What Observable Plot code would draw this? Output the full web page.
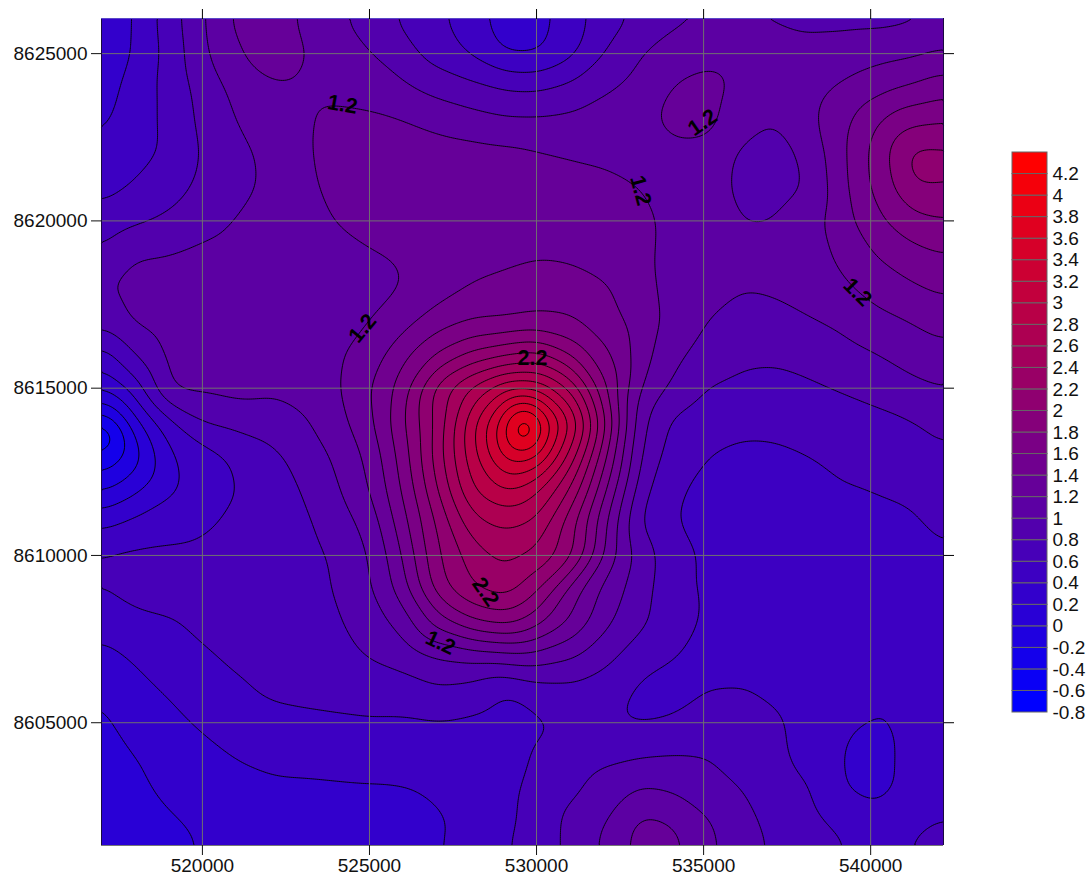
<!DOCTYPE html>
<html>
<head>
<meta charset="utf-8">
<script src="https://cdn.jsdelivr.net/npm/d3@7"></script>
<script src="https://cdn.jsdelivr.net/npm/@observablehq/plot@0.6"></script>
<style>
html,body{margin:0;padding:0;background:#fff;overflow:hidden}
#wrap{position:relative;width:1089px;height:877px}
#wrap svg{position:absolute;font-family:"Liberation Sans",Arial,sans-serif}
</style>
</head>
<body>
<div id="wrap"></div>
<script>
const xGrid = [516980,517988,518996,520004,521012,522020,523028,524036,525044,526052,527060,528068,529076,530084,531092,532100,533108,534116,535124,536132,537140,538148,539156,540164,541172,542180];
const yGrid = [8626000,8625000,8624000,8623000,8622000,8621000,8620000,8619000,8618000,8617000,8616000,8615000,8614000,8613000,8612000,8611000,8610000,8609000,8608000,8607000,8606000,8605000,8604000,8603000,8602000,8601000];
const zRows = [
[.18,.42,.70,.98,1.25,1.32,1.16,1.04,.90,.76,.63,.50,.28,.32,.53,.70,.85,.97,1.00,1.00,.98,.96,.95,.94,.96,1.02],
[.22,.42,.66,.96,1.18,1.32,1.21,1.12,1.01,.87,.70,.57,.37,.37,.55,.83,1.00,1.09,1.14,1.13,1.09,1.05,1.08,1.13,1.16,1.23],
[.30,.49,.66,.88,1.06,1.17,1.17,1.14,1.12,1.03,.93,.85,.78,.77,.85,.98,1.07,1.22,1.28,1.15,1.10,1.13,1.22,1.32,1.41,1.52],
[.36,.51,.65,.85,1.01,1.09,1.17,1.25,1.23,1.20,1.13,1.08,1.03,1.03,1.05,1.09,1.14,1.27,1.28,1.06,.99,1.15,1.34,1.57,1.76,1.79],
[.44,.54,.63,.82,.95,1.04,1.16,1.30,1.38,1.35,1.30,1.28,1.26,1.22,1.18,1.15,1.12,1.15,1.13,.96,.93,1.04,1.36,1.68,2.04,2.04],
[.53,.62,.72,.85,.95,1.03,1.14,1.27,1.35,1.36,1.34,1.32,1.32,1.30,1.28,1.26,1.20,1.14,1.09,.95,.93,1.00,1.35,1.66,1.95,1.97],
[.68,.77,.84,.93,1.01,1.07,1.12,1.21,1.29,1.32,1.33,1.33,1.33,1.33,1.33,1.31,1.24,1.16,1.11,.99,1.00,1.12,1.33,1.55,1.74,1.79],
[.81,1.00,1.01,1.05,1.07,1.09,1.10,1.13,1.18,1.22,1.27,1.31,1.35,1.38,1.36,1.31,1.24,1.15,1.10,1.06,1.06,1.12,1.24,1.41,1.52,1.60],
[.99,1.06,1.06,1.07,1.08,1.09,1.09,1.10,1.14,1.20,1.30,1.42,1.46,1.50,1.49,1.42,1.28,1.12,1.08,1.01,1.03,1.07,1.16,1.28,1.37,1.44],
[.87,1.05,1.08,1.10,1.10,1.10,1.10,1.12,1.20,1.33,1.52,1.60,1.60,1.64,1.62,1.47,1.32,1.13,1.00,.92,.93,.99,1.04,1.14,1.20,1.29],
[.50,.82,1.06,1.12,1.14,1.13,1.13,1.18,1.29,1.57,1.82,2.06,2.18,2.26,1.97,1.63,1.29,1.05,.92,.84,.83,.87,.93,.99,1.07,1.13],
[.20,.50,1.03,1.03,1.07,1.03,1.08,1.18,1.40,1.72,2.32,2.65,2.98,2.95,2.55,1.80,1.18,.95,.79,.75,.74,.77,.82,.89,.95,1.00],
[-.37,.15,.55,.82,.87,.90,.97,1.13,1.36,1.80,2.27,2.95,3.58,3.70,3.00,2.00,1.04,.75,.68,.66,.66,.67,.70,.73,.78,.85],
[-.40,-.10,.38,.52,.63,.74,.89,1.03,1.26,1.72,2.32,2.93,3.52,3.45,2.70,1.80,.97,.70,.60,.55,.56,.60,.65,.70,.75,.78],
[-.05,.14,.37,.47,.60,.70,.81,.98,1.20,1.65,2.22,2.82,3.05,2.82,2.37,1.60,.87,.62,.56,.53,.53,.53,.59,.61,.63,.67],
[.32,.45,.50,.55,.65,.68,.76,.90,1.08,1.55,2.05,2.55,2.65,2.55,2.05,1.40,.76,.60,.52,.50,.50,.50,.50,.55,.58,.65],
[.62,.64,.65,.66,.68,.70,.73,.83,1.00,1.43,2.00,2.29,2.47,2.35,2.07,1.34,.92,.67,.57,.52,.50,.49,.49,.49,.50,.58],
[.60,.66,.68,.70,.70,.71,.73,.81,.98,1.33,1.93,2.20,2.32,2.03,1.47,1.12,.90,.64,.58,.50,.47,.45,.45,.45,.45,.45],
[.47,.56,.58,.64,.66,.68,.70,.78,.90,1.10,1.50,1.78,1.88,1.65,1.37,1.03,.85,.68,.57,.50,.47,.45,.45,.45,.45,.45],
[.34,.42,.52,.58,.63,.65,.68,.74,.82,.88,1.02,1.08,1.12,1.12,1.03,.86,.68,.61,.54,.48,.45,.43,.42,.42,.42,.42],
[.21,.35,.42,.50,.58,.63,.65,.67,.70,.72,.78,.73,.58,.72,.75,.70,.56,.53,.60,.62,.56,.48,.44,.42,.41,.41],
[.16,.28,.35,.43,.50,.55,.56,.57,.58,.57,.59,.56,.52,.57,.63,.62,.58,.62,.68,.68,.64,.52,.45,.39,.44,.46],
[.13,.20,.26,.34,.41,.45,.47,.48,.48,.47,.47,.47,.52,.63,.70,.76,.79,.81,.80,.70,.64,.54,.41,.33,.46,.46],
[.10,.15,.25,.30,.33,.36,.36,.37,.38,.39,.42,.47,.56,.66,.76,.90,1.03,.98,.88,.80,.68,.62,.41,.33,.46,.46],
[.08,.12,.17,.23,.27,.29,.31,.32,.33,.35,.38,.44,.56,.68,.88,1.00,1.27,1.20,1.02,.87,.74,.66,.57,.48,.55,.63],
[.05,.10,.14,.20,.24,.27,.29,.30,.32,.35,.40,.46,.60,.72,.86,1.05,1.30,1.30,1.07,.90,.79,.69,.64,.56,.63,.75]
];
// Spot readings at the summits and hollows that fall between grid nodes
const spotX = [529670,541642,539817,536405,525151,516980];
const spotY = [8613800,8621716,8603866,8621400,8621716,8613746];
const spotZ = [4.3,2.2,.28,.88,1.44,-.72];
const levels = [-0.8,-0.6,-0.4,-0.2,0,0.2,0.4,0.6,0.8,1,1.2,1.4,1.6,1.8,2,2.2,2.4,2.6,2.8,3,3.2,3.4,3.6,3.8,4,4.2];
const legendTop = [-0.6,-0.4,-0.2,0,0.2,0.4,0.6,0.8,1,1.2,1.4,1.6,1.8,2,2.2,2.4,2.6,2.8,3,3.2,3.4,3.6,3.8,4,4.2,4.4];
const xTicks = [520000,525000,530000,535000,540000];
const yTicks = [8605000,8610000,8615000,8620000,8625000];
const labelText = ["1.2","1.2","1.2","1.2","1.2","2.2","2.2","1.2"];
const labelX = [524193,524792,533112,534968,539607,529880,528473,527126];
const labelY = [8623478,8616791,8620910,8622940,8617866,8615896,8608910,8607388];
const labelAngle = [10,-50,75,-35,45,0,55,25];

// Table for the contour mark, with the border readings repeated just outside the frame
const samples = [];
const padX = [515972,...xGrid,543188], padY = [8627000,...yGrid,8600000];
padY.forEach((y,r)=>{
  const row = zRows[Math.max(0,Math.min(zRows.length-1,r-1))];
  padX.forEach((x,c)=>samples.push({x,y,z:row[Math.max(0,Math.min(row.length-1,c-1))]}));
});
spotX.forEach((x,i)=>samples.push({x,y:spotY[i],z:spotZ[i]}));

const colorScale = {type:"linear",domain:[-0.8,4.2],range:["#0000ff","#ff0000"],interpolate:"rgb"};
const fmt = d=>String(d);

const main = Plot.plot({
  width:1089,height:877,marginLeft:101,marginRight:146,marginTop:18,marginBottom:32,
  style:{fontSize:"19px",fontFamily:"'Liberation Sans',Arial,sans-serif",background:"transparent"},
  x:{domain:[516980,542180],label:null},
  y:{domain:[8601330,8626050],label:null},
  color:colorScale,
  marks:[
    Plot.contour(samples,{x:"x",y:"y",fill:"z",thresholds:levels,interpolate:"barycentric",pixelSize:2,blur:5,stroke:"#000",strokeWidth:0.9}),
    Plot.ruleX(xTicks,{stroke:"#707070"}),
    Plot.ruleY(yTicks,{stroke:"#707070"}),
    Plot.ruleX([516980,542180],{stroke:"#1a0a40"}),
    Plot.ruleY([8626050],{stroke:"#5a48c8"}),
    Plot.ruleY([8601330],{stroke:"#777"}),
    Plot.text(labelText,{x:labelX,y:labelY,text:d=>d,rotate:labelAngle,fontSize:21.5,fontWeight:"bold",fill:"#000"}),
    Plot.axisX(xTicks,{anchor:"bottom",tickSize:10,tickPadding:3,tickFormat:fmt,label:null,color:"#111"}),
    Plot.axisX(xTicks,{anchor:"top",tickSize:10,tickFormat:null,text:null,label:null}),
    Plot.axisY(yTicks,{anchor:"left",tickSize:10,tickPadding:4,tickFormat:fmt,label:null,color:"#111"}),
    Plot.axisY(yTicks,{anchor:"right",tickSize:10,tickFormat:null,text:null,label:null})
  ]
});
main.style.left="0";main.style.top="0";
document.getElementById("wrap").appendChild(main);

const legend = Plot.plot({
  width:89,height:590,marginLeft:12,marginRight:42,marginTop:12,marginBottom:18,
  style:{fontSize:"19px",fontFamily:"'Liberation Sans',Arial,sans-serif",background:"transparent"},
  x:{domain:[0,1],axis:null},
  y:{domain:[-0.8,4.4],label:null},
  color:colorScale,
  marks:[
    Plot.rect(levels,{x1:()=>0,x2:()=>1,y1:d=>d,y2:(d,i)=>legendTop[i],fill:d=>d,stroke:"#666",strokeWidth:1,inset:0}),
    Plot.axisY(levels,{anchor:"right",tickSize:0,tickPadding:5,tickFormat:fmt,label:null,color:"#111"})
  ]
});
legend.style.left="1000px";legend.style.top="140px";
document.getElementById("wrap").appendChild(legend);
</script>
</body>
</html>
